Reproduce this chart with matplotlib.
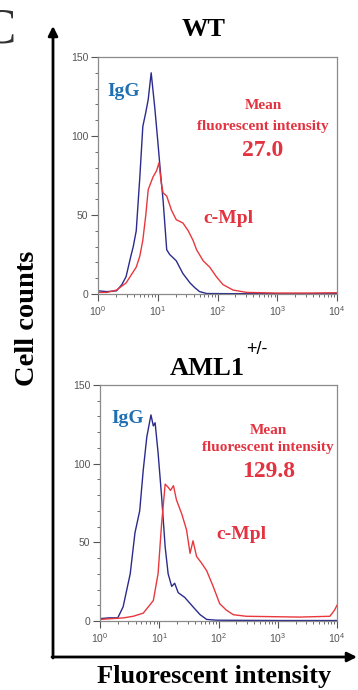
import matplotlib as mpl
from matplotlib import pyplot as plt
from matplotlib.ticker import MultipleLocator, LogLocator, NullFormatter
import numpy as np

mpl.rcParams["font.family"] = ["Liberation Serif", "DejaVu Serif"]

# log10(fluorescence) positions and cell counts
wt_igg_logx = [0.0, 0.15, 0.31, 0.40, 0.47, 0.55, 0.59, 0.64, 0.70, 0.75, 0.80, 0.84, 0.89,
               0.95, 1.0, 1.05, 1.09, 1.15, 1.2, 1.31, 1.42, 1.54, 1.62, 1.70, 1.82, 2.2, 3.0, 4.0]
wt_igg_cnt = [2, 1.5, 2, 6, 11, 24, 30, 40, 74, 106, 115, 123, 140,
              118, 97, 75, 59, 28, 25, 21, 13, 7, 4, 1.5, 0.3, 0.2, 0.2, 0.2]

wt_mpl_logx = [0.0, 0.15, 0.31, 0.47, 0.64, 0.70, 0.75, 0.80, 0.84, 0.92, 0.98, 1.02, 1.06, 1.09,
               1.15, 1.23, 1.31, 1.42, 1.51, 1.59, 1.65, 1.76, 1.87, 1.98, 2.09, 2.26, 2.49, 3.0, 3.5, 4.0]
wt_mpl_cnt = [1, 1, 2.5, 7, 17, 24, 34, 50, 66, 74, 78, 83, 70, 64,
              62, 53, 47, 45, 40, 34, 28, 21, 17, 11, 6, 2.5, 1, 0.6, 0.6, 0.8]

aml_igg_logx = [0.0, 0.15, 0.30, 0.39, 0.51, 0.59, 0.67, 0.73, 0.79, 0.86, 0.90, 0.93, 0.98,
                1.04, 1.10, 1.15, 1.21, 1.26, 1.32, 1.43, 1.57, 1.69, 1.80, 1.97, 3.0, 4.0]
aml_igg_cnt = [1.5, 2, 2, 9, 30, 56, 70, 96, 117, 131, 124, 126, 107,
               79, 47, 30, 22, 24, 18, 15, 9, 4, 1, 0.5, 0.3, 0.3]

aml_mpl_logx = [0.0, 0.2, 0.40, 0.56, 0.73, 0.90, 0.98, 1.04, 1.10, 1.15, 1.19, 1.24, 1.29, 1.38,
                1.46, 1.52, 1.57, 1.63, 1.71, 1.80, 1.91, 2.02, 2.13, 2.25, 2.47, 3.37, 3.88, 3.96, 4.0]
aml_mpl_cnt = [1, 1.5, 2, 3, 5, 13, 30, 62, 87, 85, 83, 86, 77, 68,
               58, 43, 51, 41, 37, 32, 22, 11, 7, 4, 3, 2.5, 3, 7, 10]

panels = [
    ("WT", wt_igg_logx, wt_igg_cnt, wt_mpl_logx, wt_mpl_cnt, "27.0"),
    ("AML1", aml_igg_logx, aml_igg_cnt, aml_mpl_logx, aml_mpl_cnt, "129.8"),
]

blue_line = "#2b2b8c"
red_line = "#e8383d"
blue_txt = "#1f6fb2"
red_txt = "#e33340"

W, H = 358, 690
fig = plt.figure(figsize=(W / 100, H / 100), dpi=100)

def box(l, t, r, b):
    return [l / W, 1 - b / H, (r - l) / W, (b - t) / H]

rects = [box(98, 57, 337, 294), box(100, 385, 337, 621)]
label_pos = [
    # igg (x, y), mean text x, y's, cmpl (x, y)
    ((1.45, 128), 10**2.76, (119, 106, 91), (10**1.76, 48)),
    ((1.55, 129), 10**2.84, (121, 110, 95), (10**1.97, 55)),
]

for i, (name, ix, iy, mx, my, mfi) in enumerate(panels):
    ax = fig.add_axes(rects[i])
    ax.plot(10**np.array(ix), iy, color=blue_line, lw=1.0)
    ax.plot(10**np.array(mx), my, color=red_line, lw=1.0)
    ax.set_xscale("log")
    ax.set_xlim(1, 1e4)
    ax.set_ylim(0, 150)
    ax.set_yticks([0, 50, 100, 150])
    ax.yaxis.set_minor_locator(MultipleLocator(10))
    ax.xaxis.set_major_locator(LogLocator(base=10, numticks=10))
    ax.xaxis.set_minor_locator(LogLocator(base=10, subs=np.arange(2, 10), numticks=10))
    ax.xaxis.set_minor_formatter(NullFormatter())
    ax.tick_params(axis="both", which="major", length=5, width=0.8, color="#555555",
                   labelsize=7.5, labelcolor="#555555", pad=2)
    ax.tick_params(axis="both", which="minor", length=2.5, width=0.6, color="#555555")
    for lab in ax.get_xticklabels() + ax.get_yticklabels():
        lab.set_fontfamily("Liberation Sans")
    for sp in ax.spines.values():
        sp.set_color("#8a8a8a")
        sp.set_linewidth(0.9)

    (gx, gy), mtx, (y1, y2, y3), (cx, cy) = label_pos[i]
    ax.text(gx, gy, "IgG", color=blue_txt, fontsize=14, fontweight="bold", ha="left", va="center")
    ax.text(mtx, y1, "Mean", color=red_txt, fontsize=11, fontweight="bold", ha="center", va="center")
    ax.text(mtx, y2, "fluorescent intensity", color=red_txt, fontsize=11, fontweight="bold",
            ha="center", va="center")
    ax.text(mtx, y3, mfi, color=red_txt, fontsize=17, fontweight="bold", ha="center", va="center")
    ax.text(cx, cy, "c-Mpl", color=red_txt, fontsize=14, fontweight="bold", ha="left", va="center")

# panel titles
fig.text(204 / W, 1 - 30 / H, "WT", fontsize=19, fontweight="bold", ha="center", va="center")
fig.text(207 / W, 1 - 375 / H, "AML1", fontsize=19, fontweight="bold", ha="center", va="baseline")
fig.text(246 / W, 1 - 354 / H, "+/-", fontsize=13, ha="left", va="baseline", family="Liberation Sans")

# big axis arrows
ov = fig.add_axes([0, 0, 1, 1])
ov.set_xlim(0, W)
ov.set_ylim(H, 0)
ov.axis("off")
ov.annotate("", xy=(53, 26), xytext=(53, 658),
            arrowprops=dict(arrowstyle="-|>", lw=2.0, color="black", mutation_scale=14, shrinkA=0, shrinkB=0))
ov.annotate("", xy=(357, 657), xytext=(52, 657),
            arrowprops=dict(arrowstyle="-|>", lw=2.0, color="black", mutation_scale=14, shrinkA=0, shrinkB=0))

ov.text(28, 318, "Cell counts", fontsize=20.5, fontweight="bold", rotation=90, ha="center", va="center")
ov.text(214, 677, "Fluorescent intensity", fontsize=19, fontweight="bold", ha="center", va="center")
ov.text(16, 30, "C", fontsize=36, ha="right", va="center", color="#333333")

fig.savefig("out.png", dpi=100)
